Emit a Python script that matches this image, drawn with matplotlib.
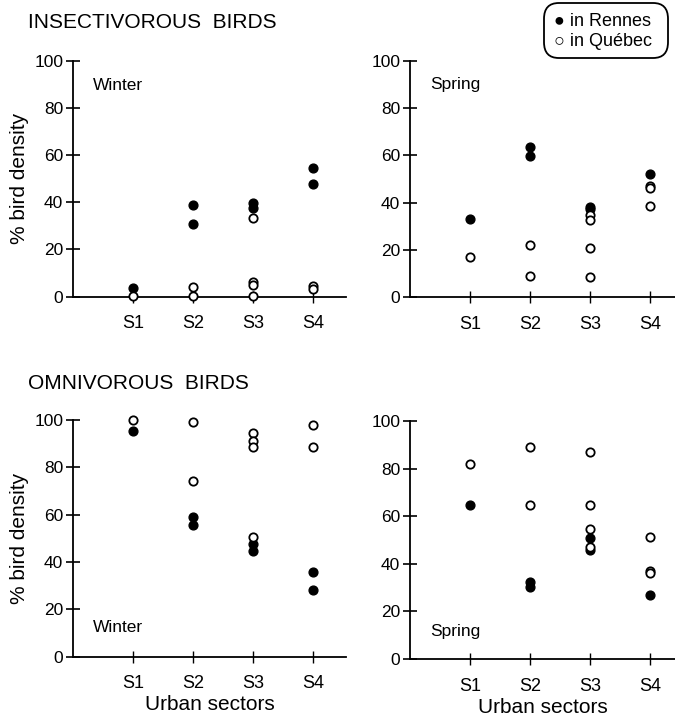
import numpy as np
import matplotlib
matplotlib.use("Agg")
import matplotlib.pyplot as plt
from matplotlib.patches import FancyBboxPatch

plt.rcParams['font.family'] = ['Liberation Sans', 'DejaVu Sans']

sectors = ["S1", "S2", "S3", "S4"]

# insectivorous, winter
ins_win_rennes_x = [1, 2, 2, 3, 3, 4, 4]
ins_win_rennes_y = [3.5, 39, 30.6, 39.5, 37.4, 54.7, 47.6]
ins_win_quebec_x = [1, 2, 2, 3, 3, 3, 3, 4, 4]
ins_win_quebec_y = [0.4, 4.2, 0.4, 33.2, 6.4, 4.8, 0.4, 4.5, 3.1]

# insectivorous, spring
ins_spr_rennes_x = [1, 2, 2, 3, 3, 4]
ins_spr_rennes_y = [33, 63.5, 59.8, 38.3, 37.2, 52]
ins_spr_quebec_x = [1, 2, 2, 3, 3, 3, 3, 4, 4, 4]
ins_spr_quebec_y = [17, 22.1, 9.2, 34.8, 32.8, 20.7, 8.5, 47.2, 46.2, 38.7]

# omnivorous, winter
omn_win_rennes_x = [1, 2, 2, 3, 3, 4, 4]
omn_win_rennes_y = [95.4, 59.2, 55.6, 47.5, 44.5, 35.8, 28]
omn_win_quebec_x = [1, 2, 2, 3, 3, 3, 3, 4, 4]
omn_win_quebec_y = [100, 99.3, 74.3, 94.6, 91, 88.4, 50.6, 97.7, 88.6]

# omnivorous, spring
omn_spr_rennes_x = [1, 2, 2, 3, 3, 4]
omn_spr_rennes_y = [64.6, 32.2, 30.3, 51, 45.8, 27]
omn_spr_quebec_x = [1, 2, 2, 3, 3, 3, 3, 4, 4, 4]
omn_spr_quebec_y = [82, 89, 64.6, 87.1, 64.6, 54.5, 47, 51.4, 37, 36.2]

W, H = 675, 718
fig = plt.figure(figsize=(W / 100, H / 100), dpi=100)


def make_axes(x0, x1, ytop, ybot, xmax):
    ax = fig.add_axes([x0 / W, 1 - ybot / H, (x1 - x0) / W, (ybot - ytop) / H])
    ax.set_xlim(0, xmax)
    ax.set_ylim(0, 100)
    ax.spines['top'].set_visible(False)
    ax.spines['right'].set_visible(False)
    for s in ('left', 'bottom'):
        ax.spines[s].set_linewidth(1.3)
    ax.set_yticks([0, 20, 40, 60, 80, 100])
    ax.set_xticks([1, 2, 3, 4])
    ax.tick_params(axis='y', direction='inout', length=10, width=1.2, labelsize=12.5, pad=2)
    ax.tick_params(axis='x', direction='inout', length=9, width=1.0, labelsize=13, pad=9)
    ax.patch.set_alpha(0)
    for sp in ax.spines.values():
        sp.set_clip_on(False)
    return ax


def draw(ax, rx, ry, qx, qy, season, sy, show_xlabel, show_ylabel):
    ax.scatter(rx, ry, s=40, c='black', edgecolors='black', zorder=3, clip_on=False)
    ax.scatter(qx, qy, s=36, facecolors='white', edgecolors='black', linewidths=1.3,
               zorder=4, clip_on=False)
    ax.text(0.33, sy, season, fontsize=12.5, ha='left', va='center')
    ax.set_xticklabels(sectors)
    if show_xlabel:
        ax.set_xlabel("Urban sectors", fontsize=15, labelpad=2)
    if show_ylabel:
        ax.set_ylabel("% bird density", fontsize=15, labelpad=4)


ax1 = make_axes(73, 346, 60.7, 296.7, 4.55)
draw(ax1, ins_win_rennes_x, ins_win_rennes_y, ins_win_quebec_x, ins_win_quebec_y,
     "Winter", 89.5, False, True)

ax2 = make_axes(410, 675, 60.7, 297.3, 4.42)
draw(ax2, ins_spr_rennes_x, ins_spr_rennes_y, ins_spr_quebec_x, ins_spr_quebec_y,
     "Spring", 90, False, False)

ax3 = make_axes(73, 346, 420, 656.7, 4.55)
draw(ax3, omn_win_rennes_x, omn_win_rennes_y, omn_win_quebec_x, omn_win_quebec_y,
     "Winter", 12.5, True, True)

ax4 = make_axes(410, 675, 421, 659, 4.42)
draw(ax4, omn_spr_rennes_x, omn_spr_rennes_y, omn_spr_quebec_x, omn_spr_quebec_y,
     "Spring", 11.5, True, False)

fig.text(28 / W, 1 - 22 / H, "INSECTIVOROUS  BIRDS", fontsize=15, ha='left', va='center')
fig.text(28 / W, 1 - 383 / H, "OMNIVOROUS  BIRDS", fontsize=15, ha='left', va='center')

# legend box
box = FancyBboxPatch((544 / W, 1 - 58 / H), 124 / W, 55 / H,
                     boxstyle="round,pad=0,rounding_size=0.022",
                     transform=fig.transFigure, facecolor='white', edgecolor='black',
                     linewidth=1.3)
fig.patches.append(box)
fig.text(554 / W, 1 - 21 / H, "\u25cf in Rennes", fontsize=13, ha='left', va='center')
fig.text(554 / W, 1 - 41 / H, "\u25cb in Québec", fontsize=13, ha='left', va='center')

fig.savefig("out.png", dpi=100)
